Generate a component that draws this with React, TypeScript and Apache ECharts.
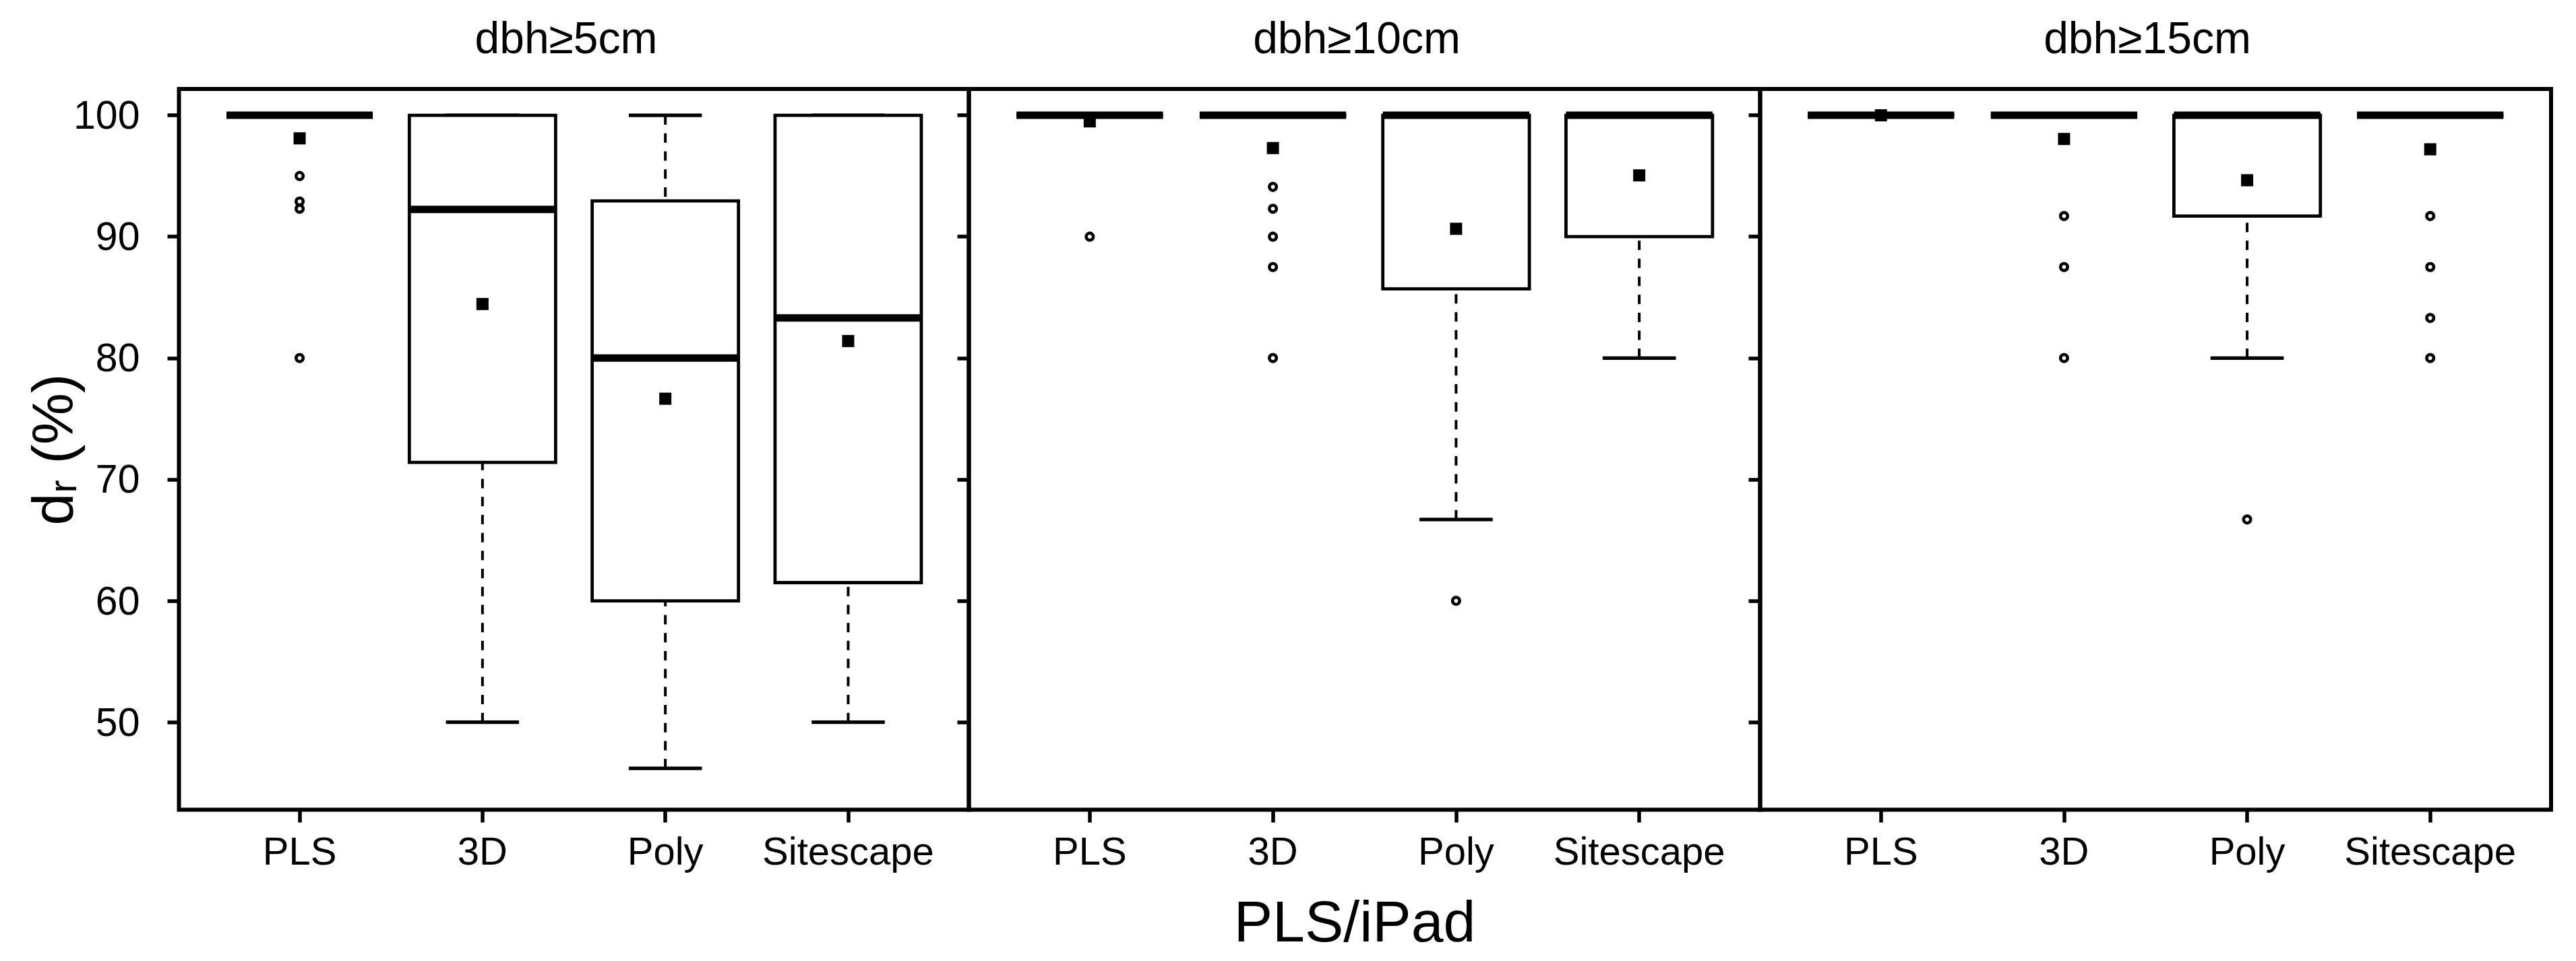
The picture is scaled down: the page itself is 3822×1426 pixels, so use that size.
import React, { useEffect, useRef } from 'react';
import * as echarts from 'echarts';

const categories = ['PLS', '3D', 'Poly', 'Sitescape'];
const panelTitles = ['dbh≥5cm', 'dbh≥10cm', 'dbh≥15cm'];
const yTicks = [50, 60, 70, 80, 90, 100];
const xTicks = [1, 2, 3, 4];

// [lower whisker, Q1, median, Q3, upper whisker] per category
const boxes5 = [
  [100, 100, 100, 100, 100],
  [50, 71.4, 92.25, 100, 100],
  [46.2, 60, 80, 92.95, 100],
  [50, 61.5, 83.3, 100, 100],
];
const boxes10 = [
  [100, 100, 100, 100, 100],
  [100, 100, 100, 100, 100],
  [66.7, 85.7, 100, 100, 100],
  [80, 90, 100, 100, 100],
];
const boxes15 = [
  [100, 100, 100, 100, 100],
  [100, 100, 100, 100, 100],
  [80, 91.7, 100, 100, 100],
  [100, 100, 100, 100, 100],
];

const means5 = [98.1, 84.45, 76.65, 81.4];
const means10 = [99.5, 97.3, 90.65, 95.05];
const means15 = [100, 98.05, 94.65, 97.2];

const outliers5 = [[95.0, 92.9, 92.3, 80.0], [], [], []];
const outliers10 = [[90.0], [94.1, 92.3, 90.0, 87.5, 80.0], [60.0], []];
const outliers15 = [[], [91.7, 87.5, 80.0], [66.7], [91.7, 87.5, 83.3, 80.0]];

const FONT = '"Liberation Sans", Arial, Helvetica, sans-serif';

const panels = [
  { title: panelTitles[0], boxes: boxes5, means: means5, outliers: outliers5 },
  { title: panelTitles[1], boxes: boxes10, means: means10, outliers: outliers10 },
  { title: panelTitles[2], boxes: boxes15, means: means15, outliers: outliers15 },
];

const gridLefts = [265.5, 1437.5, 2611.5];
const gridRights = [1437.5, 2611.5, 3785];
const titleCenters = [840, 2013, 3186];
const GRID_TOP = 132;
const GRID_BOTTOM = 1201.5;

function renderBox(params: any, api: any) {
  const x = api.value(0);
  const lo = api.coord([x, api.value(1)]);
  const q1 = api.coord([x, api.value(2)]);
  const md = api.coord([x, api.value(3)]);
  const q3 = api.coord([x, api.value(4)]);
  const hi = api.coord([x, api.value(5)]);
  const w = api.size([0.8, 0])[0];
  const cx = lo[0];
  const children: any[] = [];
  const dash = { stroke: '#000', lineWidth: 4, lineDash: [14, 12.7], fill: null };
  const solid = { stroke: '#000', lineWidth: 5.2, fill: null };
  if (Math.abs(lo[1] - q1[1]) > 0.5) {
    children.push({ type: 'line', shape: { x1: cx, y1: lo[1], x2: cx, y2: q1[1] }, style: dash });
  }
  if (Math.abs(hi[1] - q3[1]) > 0.5) {
    children.push({ type: 'line', shape: { x1: cx, y1: hi[1], x2: cx, y2: q3[1] }, style: dash });
  }
  children.push({ type: 'line', shape: { x1: cx - w / 4, y1: lo[1], x2: cx + w / 4, y2: lo[1] }, style: solid });
  children.push({ type: 'line', shape: { x1: cx - w / 4, y1: hi[1], x2: cx + w / 4, y2: hi[1] }, style: solid });
  children.push({
    type: 'rect',
    shape: { x: cx - w / 2, y: q3[1], width: w, height: q1[1] - q3[1] },
    style: { fill: '#fff', stroke: '#000', lineWidth: 4.8 },
  });
  children.push({
    type: 'line',
    shape: { x1: cx - w / 2, y1: md[1], x2: cx + w / 2, y2: md[1] },
    style: { stroke: '#000', lineWidth: 11, fill: null },
  });
  return { type: 'group', children };
}

export default function App() {
  const ref = useRef<HTMLDivElement>(null);
  useEffect(() => {
    document.body.style.margin = '0';
    const chart = echarts.init(ref.current!, null, { renderer: 'svg' });
    const grids = panels.map((_, i) => ({
      left: gridLefts[i],
      top: GRID_TOP,
      width: gridRights[i] - gridLefts[i],
      height: GRID_BOTTOM - GRID_TOP,
      show: true,
      borderColor: '#000',
      borderWidth: 6,
      backgroundColor: 'transparent',
      containLabel: false,
    }));
    const xAxes = panels.map((_, i) => ({
      type: 'value',
      gridIndex: i,
      min: 0.34,
      max: 4.66,
      axisLine: { show: false },
      splitLine: { show: false },
      axisTick: {
        show: true,
        length: 19,
        inside: false,
        customValues: xTicks,
        lineStyle: { color: '#000', width: 5.5 },
      },
      axisLabel: {
        show: true,
        customValues: xTicks,
        margin: 32,
        color: '#000',
        fontSize: 58,
        fontFamily: FONT,
        formatter: (v: number) => categories[Math.round(v) - 1] ?? '',
      },
    }));
    const yAxes = panels.map((_, i) => ({
      type: 'value',
      gridIndex: i,
      min: 42.79,
      max: 102.17,
      axisLine: { show: false },
      splitLine: { show: false },
      axisTick: {
        show: true,
        length: 17,
        inside: false,
        customValues: yTicks,
        lineStyle: { color: '#000', width: 5.5 },
      },
      axisLabel: {
        show: i === 0,
        customValues: yTicks,
        margin: 58,
        color: '#000',
        fontSize: 59,
        fontFamily: FONT,
      },
    }));
    const series: any[] = [];
    panels.forEach((p, i) => {
      series.push({
        type: 'custom',
        xAxisIndex: i,
        yAxisIndex: i,
        renderItem: renderBox,
        encode: { x: 0, y: [1, 2, 3, 4, 5] },
        data: p.boxes.map((b, k) => [k + 1, ...b]),
        z: 2,
      });
      series.push({
        type: 'scatter',
        xAxisIndex: i,
        yAxisIndex: i,
        symbol: 'circle',
        symbolSize: 10.5,
        itemStyle: { color: '#fff', borderColor: '#000', borderWidth: 4.5, opacity: 1 },
        data: p.outliers.flatMap((arr, k) => arr.map((v) => [k + 1, v])),
        z: 3,
      });
      series.push({
        type: 'scatter',
        xAxisIndex: i,
        yAxisIndex: i,
        symbol: 'rect',
        symbolSize: 18,
        itemStyle: { color: '#000', opacity: 1 },
        data: p.means.map((v, k) => [k + 1, v]),
        z: 4,
      });
    });
    const graphic: any[] = panels.map((p, i) => ({
      type: 'text',
      x: titleCenters[i],
      y: 56,
      style: {
        text: p.title,
        fontSize: 66,
        fontFamily: FONT,
        fill: '#000',
        align: 'center',
        verticalAlign: 'middle',
      },
    }));
    graphic.push({
      type: 'text',
      x: 2010,
      y: 1367,
      style: {
        text: 'PLS/iPad',
        fontSize: 86,
        fontFamily: FONT,
        fill: '#000',
        align: 'center',
        verticalAlign: 'middle',
      },
    });
    graphic.push({
      type: 'text',
      x: 78,
      y: 667,
      rotation: Math.PI / 2,
      style: {
        text: '{m|d}{s|r}{m| (%)}',
        fontFamily: FONT,
        fill: '#000',
        align: 'center',
        verticalAlign: 'middle',
        rich: {
          m: { fontSize: 86, lineHeight: 86, fontFamily: FONT, fill: '#000' },
          s: { fontSize: 58, lineHeight: 33, verticalAlign: 'bottom', fontFamily: FONT, fill: '#000' },
        },
      },
    });
    chart.setOption({
      animation: false,
      backgroundColor: '#fff',
      textStyle: { fontFamily: FONT },
      grid: grids,
      xAxis: xAxes,
      yAxis: yAxes,
      series,
      graphic,
    });
    return () => chart.dispose();
  }, []);
  return <div ref={ref} style={{ width: 3822, height: 1426, position: 'absolute', left: 0, top: 0 }} />;
}
